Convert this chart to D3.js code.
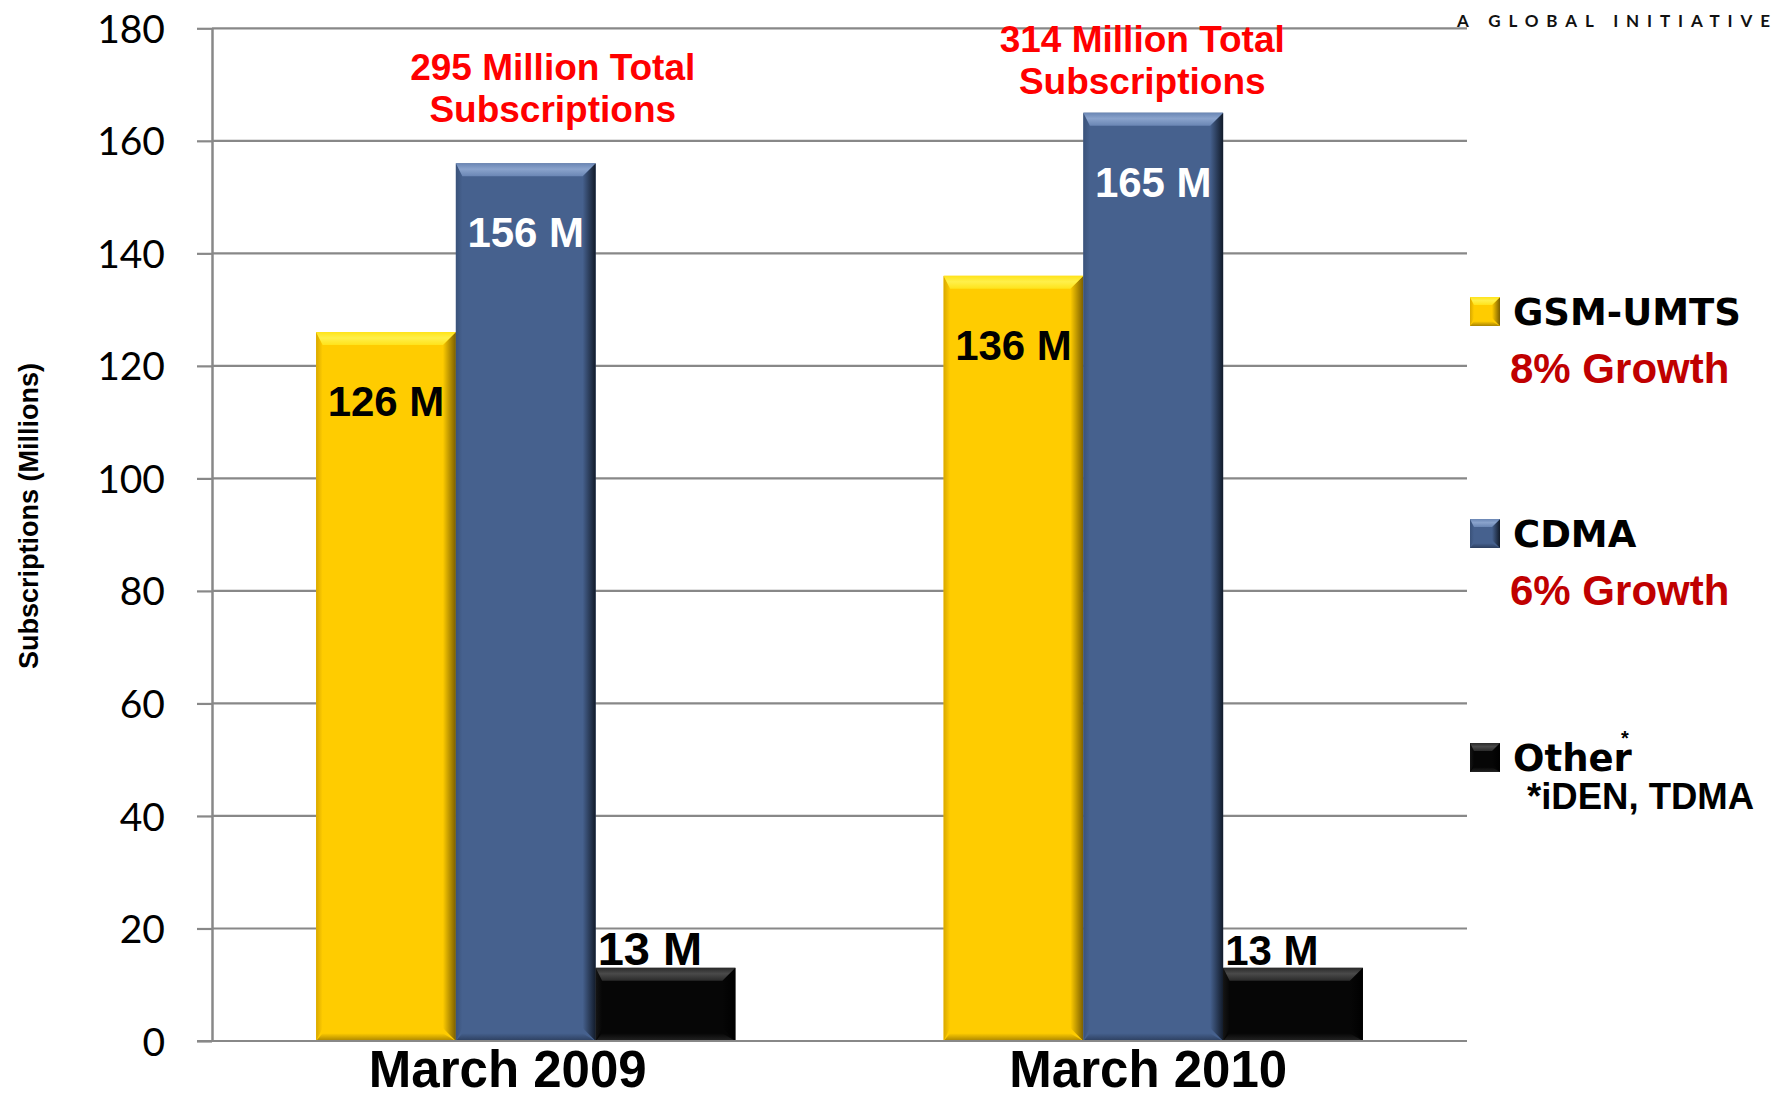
<!DOCTYPE html>
<html>
<head>
<meta charset="utf-8">
<script src="https://cdn.jsdelivr.net/npm/d3@7"></script>
<style>
  html, body { margin: 0; padding: 0; background: #ffffff; }
  svg { display: block; }
</style>
</head>
<body>
<svg id="chart" width="1771" height="1094"></svg>
<script>
// ---------- DATA ----------
const categories = ["March 2009", "March 2010"];
const seriesNames = ["GSM-UMTS", "CDMA", "Other"];
const gsmValues = [126, 136];
const cdmaValues = [156, 165];
const otherValues = [13, 13];
const totalValues = [295, 314];
const growthLabels = ["8% Growth", "6% Growth", null];
const otherFootnote = "*iDEN, TDMA";
const yTicks = [0, 20, 40, 60, 80, 100, 120, 140, 160, 180];
const yAxisTitle = "Subscriptions (Millions)";
const brandText = "A GLOBAL INITIATIVE";

// ---------- LAYOUT ----------
const svg = d3.select("#chart");
const plotLeft = 212, plotRight = 1467, plotTop = 28.3, plotBottom = 1041;
const ARIAL = "'Liberation Sans', Arial, sans-serif";
const GRID = "#888888";
const totalOffsetX = [27, -11];      // annotation centre relative to group centre
const totalBaseY = [80, 52];
const catLabelOffsetX = [-18, -5];
const smallLabelSize = [47, 42];

const seriesValues = [gsmValues, cdmaValues, otherValues];
const seriesStyle = [
  { main: "#FFCC00", light: "#FFF04A", top2: "#FFE31A", dark: "#7A5E00", side: "#D9A800", bottom: "#A88300" },
  { main: "#46618E", light: "#8AA3CC", top2: "#6A86B4", dark: "#121B2A", side: "#3A527A", bottom: "#2C3E5E" },
  { main: "#060606", light: "#4A4A4A", top2: "#2A2A2A", dark: "#000000", side: "#151515", bottom: "#242424" }
];

const y = d3.scaleLinear().domain([0, 180]).range([plotBottom, plotTop]);
const x0 = d3.scaleBand().domain(categories).range([plotLeft, plotRight]).padding(0);
const x1 = d3.scaleBand().domain(seriesNames).range([0, x0.bandwidth()]).paddingInner(0).paddingOuter(0.745);

// gradients
const defs = svg.append("defs");
seriesStyle.forEach((s, i) => {
  const gr = defs.append("linearGradient").attr("id", "gR" + i).attr("x1", "0").attr("x2", "1").attr("y1", "0").attr("y2", "0");
  gr.append("stop").attr("offset", "0").attr("stop-color", s.main);
  gr.append("stop").attr("offset", "1").attr("stop-color", s.dark);
  const gl = defs.append("linearGradient").attr("id", "gL" + i).attr("x1", "0").attr("x2", "1").attr("y1", "0").attr("y2", "0");
  gl.append("stop").attr("offset", "0").attr("stop-color", s.side);
  gl.append("stop").attr("offset", "1").attr("stop-color", s.main);
  const gt = defs.append("linearGradient").attr("id", "gT" + i).attr("x1", "0").attr("x2", "0").attr("y1", "0").attr("y2", "1");
  gt.append("stop").attr("offset", "0").attr("stop-color", s.top2);
  gt.append("stop").attr("offset", "0.45").attr("stop-color", s.light);
  gt.append("stop").attr("offset", "1").attr("stop-color", s.top2);
  const gb = defs.append("linearGradient").attr("id", "gB" + i).attr("x1", "0").attr("x2", "0").attr("y1", "0").attr("y2", "1");
  gb.append("stop").attr("offset", "0").attr("stop-color", s.main);
  gb.append("stop").attr("offset", "1").attr("stop-color", s.bottom);
});

function bevelRect(g, bx, by, bw, bh, si, b) {
  const s = seriesStyle[si];
  g.append("rect").attr("x", bx).attr("y", by).attr("width", bw).attr("height", bh).attr("fill", s.main);
  const pts = a => a.map(p => p.join(",")).join(" ");
  g.append("polygon").attr("points", pts([[bx, by], [bx + b * 0.5, by + b], [bx + b * 0.5, by + bh - b], [bx, by + bh]])).attr("fill", `url(#gL${si})`);
  g.append("polygon").attr("points", pts([[bx + bw, by], [bx + bw - b, by + b], [bx + bw - b, by + bh - b], [bx + bw, by + bh]])).attr("fill", `url(#gR${si})`);
  g.append("polygon").attr("points", pts([[bx, by], [bx + bw, by], [bx + bw - b, by + b], [bx + b * 0.5, by + b]])).attr("fill", `url(#gT${si})`);
  g.append("polygon").attr("points", pts([[bx, by + bh], [bx + bw, by + bh], [bx + bw - b, by + bh - b * 0.6], [bx + b * 0.5, by + bh - b * 0.6]])).attr("fill", `url(#gB${si})`);
}

// ---------- GRID ----------
svg.append("g").selectAll("line.grid").data(yTicks).join("line")
  .attr("x1", plotLeft).attr("x2", plotRight)
  .attr("y1", d => y(d)).attr("y2", d => y(d))
  .attr("stroke", GRID).attr("stroke-width", 2.2);

// ---------- Y AXIS ----------
const yAxis = svg.append("g").attr("transform", `translate(${plotLeft},0)`)
  .call(d3.axisLeft(y).tickValues(yTicks).tickSize(15).tickPadding(32).tickSizeOuter(0));
yAxis.select(".domain").attr("stroke", GRID).attr("stroke-width", 2.5);
yAxis.selectAll(".tick line").attr("stroke", GRID).attr("stroke-width", 2.2);
yAxis.selectAll(".tick text")
  .attr("font-family", "Lato, 'Open Sans', sans-serif")
  .attr("font-size", 39).attr("fill", "#000").attr("dy", "0.36em");

// y title
svg.append("text")
  .attr("transform", `translate(38,516) rotate(-90)`)
  .attr("text-anchor", "middle")
  .attr("font-family", ARIAL).attr("font-weight", "bold").attr("font-size", 27)
  .text(yAxisTitle);

// ---------- BARS ----------
const groups = svg.append("g").selectAll("g.cat").data(categories).join("g")
  .attr("transform", d => `translate(${x0(d)},0)`);

groups.each(function (cat, ci) {
  const g = d3.select(this);
  seriesNames.forEach((sn, si) => {
    const v = seriesValues[si][ci];
    const bx = x1(sn), bw = x1.bandwidth();
    const by = y(v), bh = y(0) - y(v);
    bevelRect(g, bx, by, bw, bh, si, 13);
    if (si < 2) {
      g.append("text")
        .attr("x", bx + bw / 2).attr("y", by + 84)
        .attr("text-anchor", "middle")
        .attr("font-family", ARIAL).attr("font-weight", "bold").attr("font-size", 42)
        .attr("fill", si === 0 ? "#000" : "#fff")
        .text(`${v} M`);
    } else {
      g.append("text")
        .attr("x", bx + 2).attr("y", by - 3)
        .attr("text-anchor", "start")
        .attr("font-family", ARIAL).attr("font-weight", "bold").attr("font-size", smallLabelSize[ci])
        .attr("fill", "#000")
        .text(`${v} M`);
    }
  });
  // total annotation above group
  const cx = x0.bandwidth() / 2 + totalOffsetX[ci];
  const baseY = totalBaseY[ci];
  const t = g.append("text").attr("text-anchor", "middle")
    .attr("font-family", ARIAL).attr("font-weight", "bold").attr("font-size", 37)
    .attr("fill", "#FF0000");
  t.append("tspan").attr("x", cx).attr("y", baseY).text(`${totalValues[ci]} Million Total`);
  t.append("tspan").attr("x", cx).attr("y", baseY + 42).text("Subscriptions");
});

// ---------- X AXIS ----------
const xAxis = svg.append("g").attr("transform", `translate(0,${plotBottom})`)
  .call(d3.axisBottom(x0).tickSize(0).tickPadding(10));
xAxis.select(".domain").remove();
xAxis.selectAll(".tick text")
  .attr("font-family", ARIAL).attr("font-weight", "bold").attr("font-size", 51).attr("fill", "#000")
  .attr("dx", (d, i) => catLabelOffsetX[i]);
// baseline line
svg.append("line").attr("x1", plotLeft - 15).attr("x2", plotRight)
  .attr("y1", y(0)).attr("y2", y(0)).attr("stroke", GRID).attr("stroke-width", 2.2);

// ---------- LEGEND ----------
const legendY = [297, 519, 743];
const legend = svg.append("g");
seriesNames.forEach((sn, si) => {
  const ly = legendY[si];
  bevelRect(legend, 1470, ly, 30, 29, si, 8);
  legend.append("text")
    .attr("x", 1513).attr("y", ly + 28)
    .attr("font-family", "'DejaVu Sans', Verdana, sans-serif").attr("font-weight", "bold").attr("font-size", 37)
    .attr("fill", "#000").text(sn);
  if (growthLabels[si]) {
    legend.append("text")
      .attr("x", 1510).attr("y", ly + 86)
      .attr("font-family", ARIAL).attr("font-weight", "bold").attr("font-size", 42)
      .attr("fill", "#C00000").text(growthLabels[si]);
  }
});
legend.append("text").attr("x", 1621).attr("y", 745)
  .attr("font-family", ARIAL).attr("font-weight", "bold").attr("font-size", 20).text("*");
legend.append("text").attr("x", 1527).attr("y", 809)
  .attr("font-family", ARIAL).attr("font-weight", "bold").attr("font-size", 36.5)
  .attr("fill", "#000").text(otherFootnote);

// ---------- BRAND ----------
svg.append("text").attr("x", 1457).attr("y", 27)
  .attr("font-family", "Lato, 'Open Sans', sans-serif").attr("font-weight", "bold").attr("font-size", 17)
  .attr("textLength", 313).attr("lengthAdjust", "spacing")
  .attr("fill", "#111").text(brandText);
</script>
</body>
</html>
